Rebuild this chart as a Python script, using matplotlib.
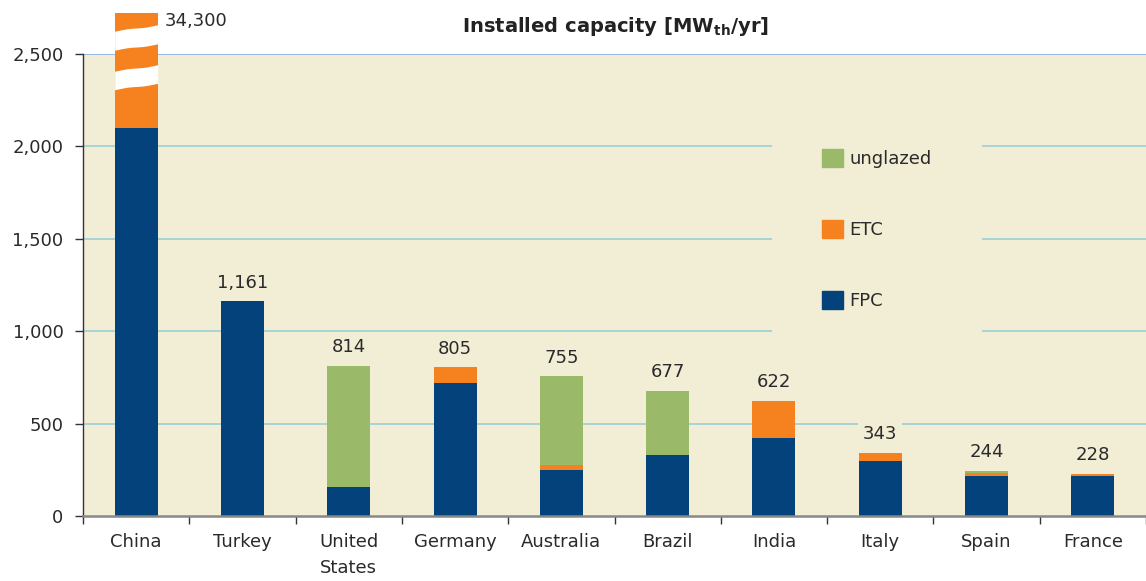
import numpy as np
import matplotlib
matplotlib.use("Agg")
import matplotlib.pyplot as plt
from matplotlib.patches import Patch

countries = ["China", "Turkey", "United\nStates", "Germany", "Australia",
             "Brazil", "India", "Italy", "Spain", "France"]
fpc = [2100, 1161, 159, 721, 250, 330, 424, 298, 216, 216]
etc = [32200, 0, 0, 85, 25, 0, 198, 45, 15, 12]
unglazed = [0, 0, 655, 0, 480, 347, 0, 0, 13, 0]
totals = [34300, 1161, 814, 805, 755, 677, 622, 343, 244, 228]
total_labels = ["34,300", "1,161", "814", "805", "755", "677", "622", "343", "244", "228"]

# display cap for broken China bar (drawn past the axis top)
china_display_top = 2722

C_FPC = "#03427A"
C_ETC = "#F5821F"
C_UNG = "#9BBA69"
BG = "#F2EED6"
GRID = "#93CDD6"
TXT = "#2a2a2a"

plt.rcParams["font.family"] = ["DejaVu Sans"]
fig = plt.figure(figsize=(11.46, 5.81), dpi=100)
ax = fig.add_axes([83/1146, 1-516/581, 1-83/1146, (516-54)/581])
ax.set_facecolor(BG)

x = np.arange(len(countries))
w = 0.405

etc_disp = list(etc)
etc_disp[0] = china_display_top - fpc[0]

ax.bar(x, fpc, w, color=C_FPC, zorder=3)
bars_etc = ax.bar(x, etc_disp, w, bottom=fpc, color=C_ETC, zorder=3)
bars_etc[0].set_clip_on(False)
bot2 = [a + b for a, b in zip(fpc, etc)]
ax.bar(x, unglazed, w, bottom=bot2, color=C_UNG, zorder=3)

# wavy break marks on China bar
px = 2500/462.0
t = np.linspace(0, 1, 60)
xs = x[0] - w/2 + t*w
def edge(c):
    return c + px*(-3.2*np.cos(np.pi*t) + 1.2*np.sin(2*np.pi*t))
for top_px, bot_px in [(28, 47), (68, 86.5)]:
    yt = edge((516-top_px)*px)
    yb = edge((516-bot_px)*px)
    ax.fill_between(xs, yb, yt, color="white", zorder=4, clip_on=False, lw=0)

ax.set_xlim(-0.5, len(countries)-0.5)
ax.set_ylim(0, 2500)
ax.set_yticks([0, 500, 1000, 1500, 2000, 2500])
ax.set_yticklabels(["0", "500", "1,000", "1,500", "2,000", "2,500"])
for yv in [500, 1000, 1500, 2000]:
    ax.axhline(yv, color=GRID, lw=1.1, zorder=1)
ax.axhline(2500, color="#8DB4E2", lw=1.3, zorder=1)

ax.set_xticks(x)
ax.set_xticklabels(countries, linespacing=1.6)
ax.set_xticks(np.arange(-0.5, len(countries), 1.0), minor=True)
ax.tick_params(axis="x", which="major", length=0, pad=12, labelsize=13, labelcolor=TXT)
ax.tick_params(axis="x", which="minor", length=6, width=1, color="#333333", direction="out")
ax.tick_params(axis="y", length=6, width=1, color="#333333", pad=8, labelsize=13, labelcolor=TXT)

for s in ["top", "right"]:
    ax.spines[s].set_visible(False)
ax.spines["left"].set_color("#333333")
ax.spines["left"].set_linewidth(1)
ax.spines["bottom"].set_color("#888888")
ax.spines["bottom"].set_linewidth(1.8)
ax.spines["left"].set_zorder(5)
ax.spines["bottom"].set_zorder(5)

# value labels
for i in range(1, len(countries)):
    ax.annotate(total_labels[i], (x[i], totals[i]), xytext=(0, 7), textcoords="offset points",
                ha="center", va="bottom", fontsize=13, color=TXT, zorder=6,
                bbox=dict(boxstyle="square,pad=0.25", fc=BG, ec="none"))
ax.annotate(total_labels[0], (x[0] + w/2, china_display_top), xytext=(5, -5.5), textcoords="offset points",
            ha="left", va="center", fontsize=13, color=TXT, annotation_clip=False, zorder=6)

handles = [Patch(color=C_UNG, label="unglazed"), Patch(color=C_ETC, label="ETC"),
           Patch(color=C_FPC, label="FPC")]
leg = ax.legend(handles=handles, loc="upper left",
                bbox_to_anchor=((772-83)/1063, (516-99)/462), borderaxespad=0,
                fontsize=13, frameon=True, facecolor=BG, edgecolor="none", framealpha=1,
                handlelength=1.2, handleheight=1.2, handletextpad=0.35, labelspacing=2.87,
                borderpad=2.75, fancybox=False)
for txt in leg.get_texts():
    txt.set_color(TXT)
leg.set_zorder(5)

fig.text(615/1146, 1-27/581, r"Installed capacity [MW$_{\mathbf{th}}$/yr]", ha="center", va="center",
         fontsize=14, fontweight="bold", color="#222222")

fig.savefig("out.png", dpi=100, facecolor="white")
